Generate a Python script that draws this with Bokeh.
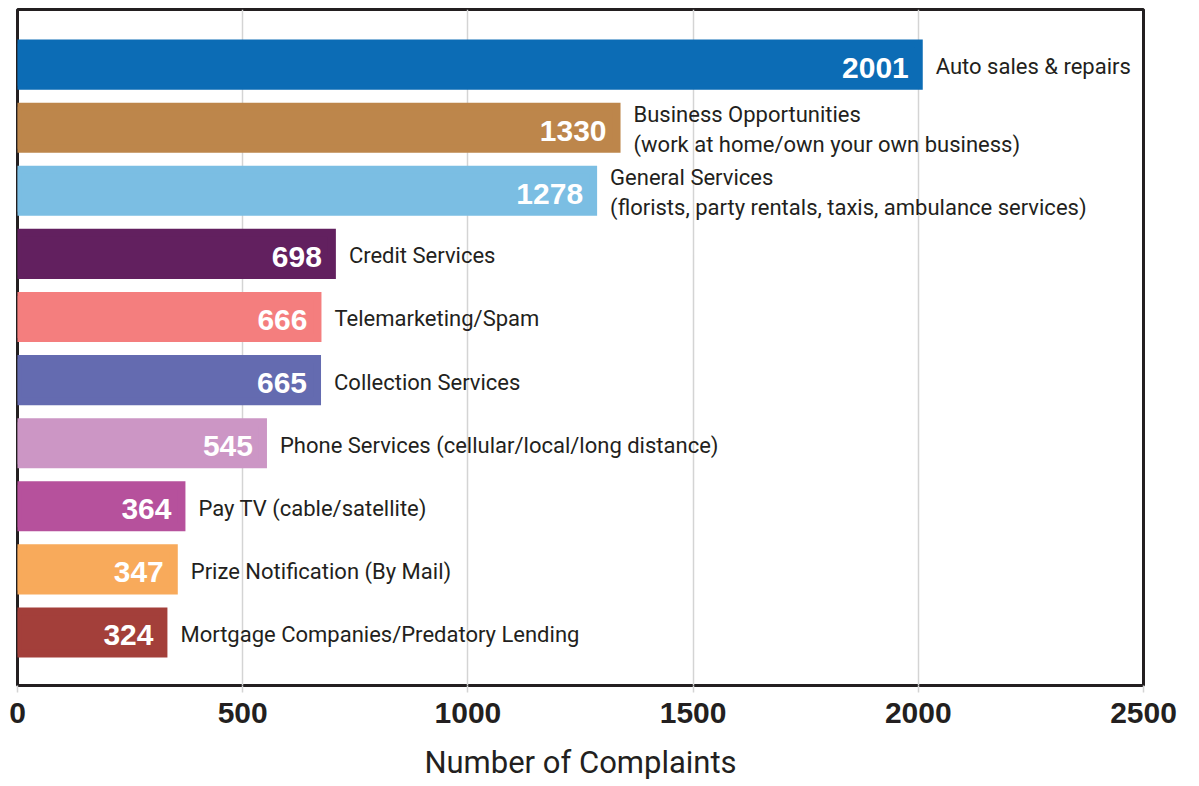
from bokeh.plotting import figure
from bokeh.models import ColumnDataSource, Range1d, FixedTicker
from bokeh.core.properties import value
from bokeh.embed import file_html
from bokeh.resources import INLINE

categories = [
    "Auto sales & repairs",
    "Business Opportunities\n(work at home/own your own business)",
    "General Services\n(florists, party rentals, taxis, ambulance services)",
    "Credit Services",
    "Telemarketing/Spam",
    "Collection Services",
    "Phone Services (cellular/local/long distance)",
    "Pay TV (cable/satellite)",
    "Prize Notification (By Mail)",
    "Mortgage Companies/Predatory Lending",
]
complaints = [2001, 1330, 1278, 698, 666, 665, 545, 364, 347, 324]
bar_colors = ["#0c6cb5", "#bd864b", "#7bbee3", "#62205f", "#f47e7e",
              "#646bb0", "#cc96c5", "#b6519c", "#f8aa5b", "#a33f3a"]
x_ticks = [0, 500, 1000, 1500, 2000, 2500]

NARROW = "Roboto"
DARK = "#231f20"

src = ColumnDataSource(dict(
    y=list(range(len(categories))),
    v=complaints,
    lbl=[str(c) for c in complaints],
    cat=categories,
    color=bar_colors,
))

p = figure(width=1191, height=786, output_backend="svg", toolbar_location=None,
           x_range=Range1d(0, 2500), y_range=Range1d(9.84, -0.873),
           min_border_left=17, min_border_right=48, min_border_top=9,
           min_border_bottom=101)

p.outline_line_color = DARK
p.outline_line_width = 3
p.background_fill_color = "white"

p.hbar(y="y", left=0, right="v", height=0.667, source=src,
       fill_color="color", line_color="color", line_width=8, line_join="miter")

p.text(x="v", y="y", text="lbl", source=src, text_align="right",
       text_baseline="middle", x_offset=-10, y_offset=3,
       text_font=value("Liberation Sans"), text_font_style="bold",
       text_font_size="30px", text_color="white")

p.text(x="v", y="y", text="cat", source=src, text_align="left",
       text_baseline="middle", x_offset=17, y_offset=2,
       text_font=value(NARROW), text_font_size="22px", text_color=DARK,
       text_line_height=1.2)

p.yaxis.visible = False
p.ygrid.visible = False

p.xgrid.grid_line_color = "#d4d4d4"
p.xgrid.grid_line_width = 1.5

xa = p.xaxis[0]
xa.ticker = FixedTicker(ticks=x_ticks)
xa.axis_line_color = None
xa.major_tick_line_color = "#d4d4d4"
xa.major_tick_line_width = 1.5
xa.major_tick_in = 0
xa.major_tick_out = 7
xa.minor_tick_line_color = None
xa.major_label_standoff = 10
xa.major_label_text_font = "Liberation Sans"
xa.major_label_text_font_style = "bold"
xa.major_label_text_font_size = "30px"
xa.major_label_text_color = DARK
xa.axis_label = "Number of Complaints"
xa.axis_label_text_font = NARROW
xa.axis_label_text_font_style = "normal"
xa.axis_label_text_font_size = "31px"
xa.axis_label_text_color = DARK
xa.axis_label_standoff = 18

open("out.html", "w").write(file_html(p, INLINE))
